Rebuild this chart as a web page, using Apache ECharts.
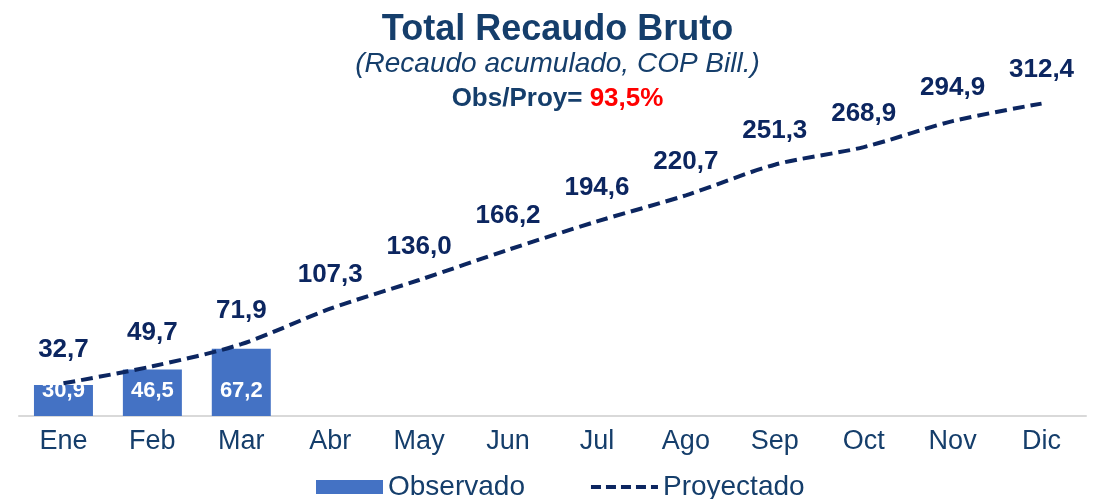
<!DOCTYPE html>
<html>
<head>
    <meta charset="utf-8"/>
    <script src="https://cdn.jsdelivr.net/npm/echarts@6/dist/echarts.min.js"></script>
    <style>
        html, body { margin: 0; padding: 0; background: #fff; }
    </style>
</head>
<body>
<div id="main" style="width: 1115px;height:499px;"></div>
<script type="text/javascript">
    // datos del gráfico
    var meses = ['Ene', 'Feb', 'Mar', 'Abr', 'May', 'Jun', 'Jul', 'Ago', 'Sep', 'Oct', 'Nov', 'Dic'];
    var observado = [30.9, 46.5, 67.2];
    var proyectado = [32.7, 49.7, 71.9, 107.3, 136.0, 166.2, 194.6, 220.7, 251.3, 268.9, 294.9, 312.4];
    var ratioTexto = '93,5%';

    var fuente = '"Liberation Sans", Arial, sans-serif';

    function coma(v) {
        return v.toFixed(1).replace('.', ',');
    }

    var myChart = echarts.init(document.getElementById('main'));

    var option = {
        backgroundColor: '#ffffff',
        title: [{
            text: 'Total Recaudo Bruto',
            left: 'center',
            top: 7,
            textStyle: {
                fontFamily: fuente,
                fontSize: 36,
                fontWeight: 'bold',
                color: '#153e6b'
            }
        }, {
            text: '(Recaudo acumulado, COP Bill.)',
            left: 'center',
            top: 45,
            textStyle: {
                fontFamily: fuente,
                fontSize: 28,
                fontStyle: 'italic',
                fontWeight: 'normal',
                color: '#153e6b'
            }
        }, {
            text: '{a|Obs/Proy= }{b|' + ratioTexto + '}',
            left: 'center',
            top: 81,
            textStyle: {
                rich: {
                    a: {fontFamily: fuente, fontSize: 26, fontWeight: 'bold', color: '#153e6b'},
                    b: {fontFamily: fuente, fontSize: 26, fontWeight: 'bold', color: '#ff0000'}
                }
            }
        }],
        legend: {
            left: 311,
            top: 468,
            itemWidth: 67,
            itemHeight: 14,
            itemGap: 64,
            textStyle: {
                fontFamily: fuente,
                fontSize: 28,
                color: '#153e6b'
            },
            data: [
                {name: 'Observado', icon: 'rect'},
                {
                    name: 'Proyectado',
                    itemStyle: {opacity: 0},
                    lineStyle: {type: [10, 5], width: 4, color: '#0c2660'}
                }
            ]
        },
        grid: {
            left: 19,
            right: 29,
            top: 66,
            bottom: 83
        },
        xAxis: {
            type: 'category',
            data: meses,
            axisLine: {lineStyle: {color: '#d9d9d9', width: 2}},
            axisTick: {show: false},
            axisLabel: {
                fontFamily: fuente,
                fontSize: 27,
                color: '#153e6b',
                margin: 12
            }
        },
        yAxis: {
            type: 'value',
            min: 0,
            max: 350,
            show: false,
            splitLine: {show: false}
        },
        series: [{
            name: 'Observado',
            type: 'bar',
            data: observado,
            barWidth: 59,
            itemStyle: {color: '#4472c4'},
            label: {
                show: true,
                position: 'insideBottom',
                distance: 14,
                fontFamily: fuente,
                fontSize: 22,
                fontWeight: 'bold',
                color: '#ffffff',
                formatter: function (p) { return coma(p.value); }
            }
        }, {
            name: 'Proyectado',
            type: 'line',
            data: proyectado,
            smooth: 0.3,
            symbol: 'circle',
            symbolSize: 1,
            showSymbol: true,
            lineStyle: {color: '#0c2660', width: 4, type: [12, 6]},
            itemStyle: {color: 'rgba(0,0,0,0)'},
            label: {
                show: true,
                position: 'top',
                distance: 20,
                fontFamily: fuente,
                fontSize: 26,
                fontWeight: 'bold',
                color: '#0c2660',
                formatter: function (p) { return coma(p.value); }
            },
            z: 3
        }]
    };

    myChart.setOption(option);
</script>
</body>
</html>
